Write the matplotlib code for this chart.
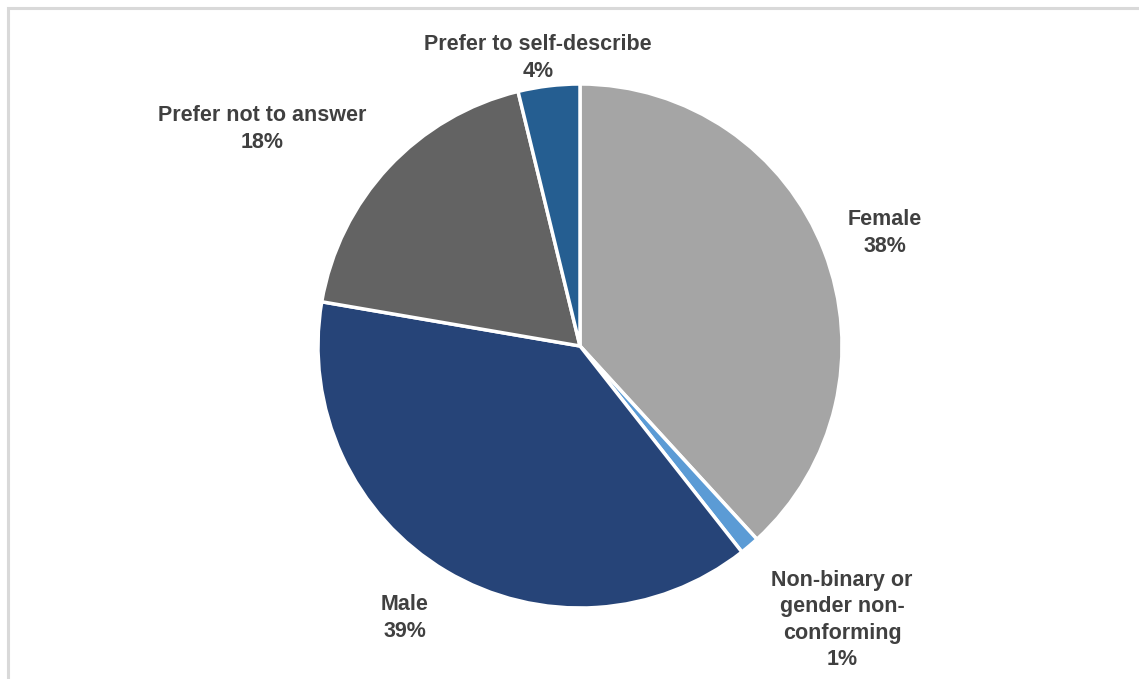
import matplotlib.pyplot as plt
from matplotlib.patches import Rectangle

labels = ['Female', 'Non-binary or\ngender non-\nconforming', 'Male',
          'Prefer not to answer', 'Prefer to self-describe']
values = [38.2, 1.2, 38.3, 18.5, 3.8]
pct_text = ['38%', '1%', '39%', '18%', '4%']
colors = ['#A5A5A5', '#5B9BD5', '#264478', '#636363', '#255E91']
# label centres in pie data units
label_pos = [(1.164, 0.431), (1.0, -1.046), (-0.668, -1.038),
             (-1.214, 0.828), (-0.16, 1.10)]

plt.rcParams['font.family'] = ['Liberation Sans Narrow', 'Liberation Sans', 'DejaVu Sans']

W, H = 1139, 679
fig = plt.figure(figsize=(W / 100, H / 100), dpi=100)

# light grey frame (top and left visible)
fig.patches.append(Rectangle((8 / W, -0.1), 1.2, (H - 8) / H + 0.1,
                             transform=fig.transFigure, fill=False,
                             edgecolor='#D9D9D9', lw=2.2))

cx, cy, r = 580, 346, 262
ax = fig.add_axes([(cx - r) / W, (H - cy - r) / H, 2 * r / W, 2 * r / H])
ax.pie(values, colors=colors, startangle=90, counterclock=False, radius=1,
       wedgeprops=dict(edgecolor='white', linewidth=2.5))
ax.set_xlim(-1, 1)
ax.set_ylim(-1, 1)
ax.axis('off')

for lab, p, (x, y) in zip(labels, pct_text, label_pos):
    ax.text(x, y, lab + '\n' + p, ha='center', va='center', multialignment='center',
            fontsize=15.5, fontweight='bold', color='#404040', linespacing=1.35,
            clip_on=False)

fig.savefig('out.png', dpi=100)
